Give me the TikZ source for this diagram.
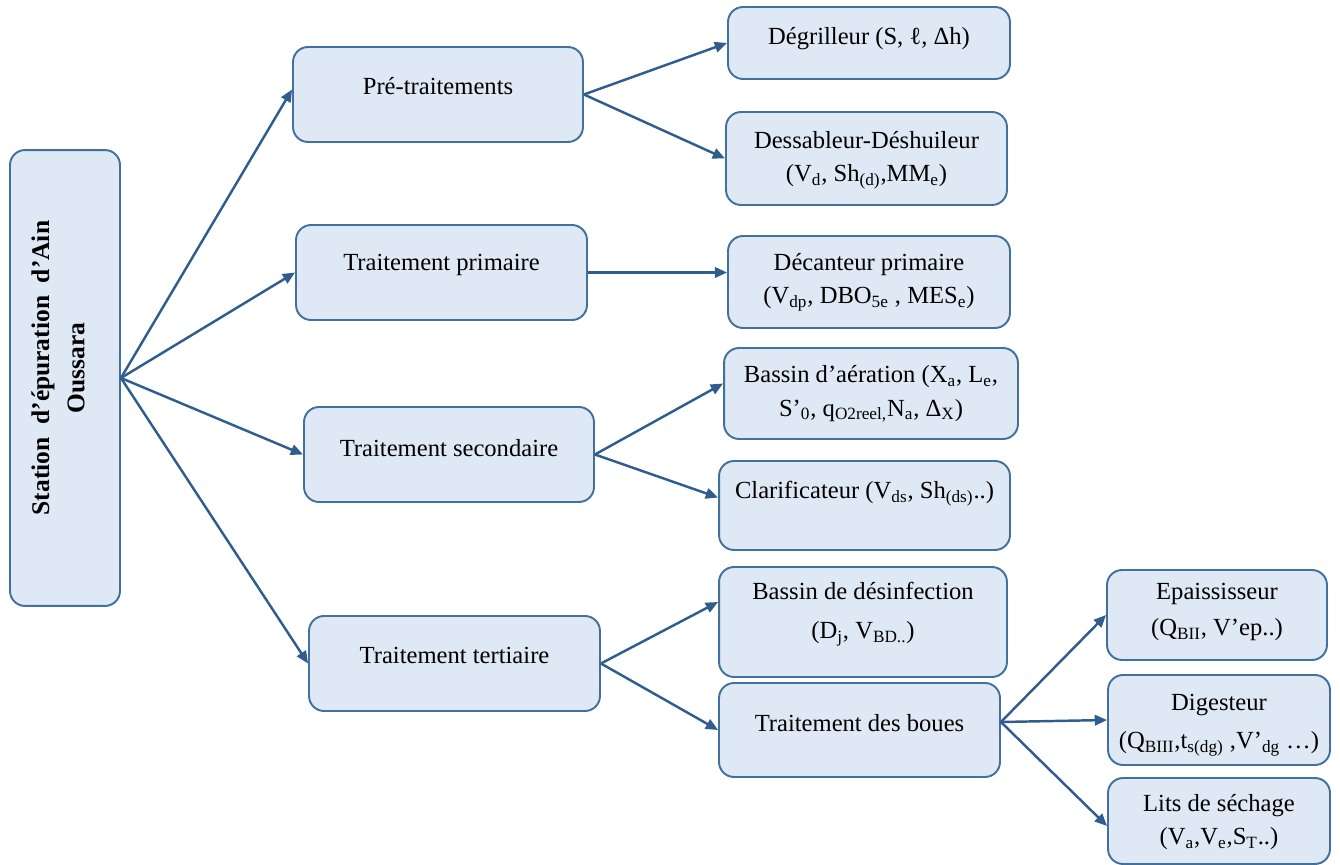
\documentclass[tikz,border=0pt]{standalone}
\usepackage{fontspec}
\setmainfont{Liberation Serif}
\usetikzlibrary{arrows.meta}
\definecolor{boxfill}{HTML}{DEE9F5}
\definecolor{boxline}{HTML}{41719C}
\definecolor{arrowc}{HTML}{2F5E8E}
\newcommand{\sbs}[1]{\textsubscript{#1}}
\begin{document}
\begin{tikzpicture}[x=0.02cm,y=-0.02cm,
  box/.style={draw=boxline, fill=boxfill, line width=1.1pt, rounded corners=0.3cm, inner sep=0pt},
  txt/.style={inner sep=0pt, align=center, font=\fontsize{14}{19}\selectfont, text=black},
  conn/.style={draw=arrowc, line width=1.4pt, -{Triangle[length=7pt,width=6pt]}}]
\useasboundingbox (0,0) rectangle (1340,865);
% boxes
\node[box, minimum width=2.2cm, minimum height=9.12cm] (st) at (65,378) {};
\node[box, minimum width=5.8cm, minimum height=1.9cm] (pre) at (438,94.5) {};
\node[box, minimum width=5.82cm, minimum height=1.9cm] (tp) at (441.5,272.5) {};
\node[box, minimum width=5.8cm, minimum height=1.9cm] (ts) at (449,454.5) {};
\node[box, minimum width=5.82cm, minimum height=1.9cm] (tt) at (454.5,663.5) {};
\node[box, minimum width=5.64cm, minimum height=1.44cm] (deg) at (869,43) {};
\node[box, minimum width=5.62cm, minimum height=1.86cm] (dess) at (866.5,158.5) {};
\node[box, minimum width=5.64cm, minimum height=1.84cm] (dec) at (869,282) {};
\node[box, minimum width=5.88cm, minimum height=1.82cm] (ba) at (871,393.5) {};
\node[box, minimum width=5.82cm, minimum height=1.78cm] (cl) at (864.5,505.5) {};
\node[box, minimum width=5.76cm, minimum height=2.2cm] (bd) at (863,622) {};
\node[box, minimum width=5.62cm, minimum height=1.88cm] (tb) at (859.5,730) {};
\node[box, minimum width=4.4cm, minimum height=1.8cm] (ep) at (1217,615) {};
\node[box, minimum width=4.44cm, minimum height=1.8cm] (dg) at (1219,720) {};
\node[box, minimum width=4.44cm, minimum height=1.72cm] (ls) at (1219,821) {};
% texts
\node[txt, rotate=90, font=\fontsize{14.5}{20}\selectfont\bfseries] (stT) at (58,368) {Station\ \ d’épuration\ \ d’Ain\\Oussara};
\node[txt] (preT) at (438,86) {Pré-traitements};
\node[txt] (tpT) at (441.5,265) {Traitement primaire};
\node[txt] (tsT) at (449,448) {Traitement secondaire};
\node[txt] (ttT) at (454.5,655) {Traitement tertiaire};
\node[txt] (degT) at (869,39) {Dégrilleur (S, ℓ, Δh)};
\node[txt] (dessT) at (866.5,160) {Dessableur-Déshuileur\\(V\sbs{d}, Sh\sbs{(d)},MM\sbs{e})};
\node[txt] (decT) at (869,282) {Décanteur primaire\\(V\sbs{dp}, DBO\sbs{5e} , MES\sbs{e})};
\node[txt] (baT) at (871,394) {Bassin d’aération (X\sbs{a}, L\sbs{e},\\S’\sbs{0}, q\sbs{O2reel,}N\sbs{a}, Δ\sbs{X})};
\node[txt] (clT) at (864.5,494) {Clarificateur (V\sbs{ds}, Sh\sbs{(ds)}..)};
\node[txt, font=\fontsize{14}{22}\selectfont] (bdT) at (863,614) {Bassin de désinfection\\(D\sbs{j}, V\sbs{BD..})};
\node[txt] (tbT) at (859.5,723) {Traitement des boues};
\node[txt, font=\fontsize{14}{20.5}\selectfont] (epT) at (1217,612) {Epaississeur\\(Q\sbs{BII}, V’ep..)};
\node[txt, font=\fontsize{14}{22}\selectfont] (dgT) at (1219,725) {Digesteur\\(Q\sbs{BIII},t\sbs{s(dg)} ,V’\sbs{dg} …)};
\node[txt] (lsT) at (1219,822) {Lits de séchage\\(V\sbs{a},V\sbs{e},S\sbs{T}..)};
% connectors
\draw[conn] (st.east) -- ([yshift=0.1cm]pre.west);
\draw[conn] (st.east) -- (tp.west);
\draw[conn] (st.east) -- (ts.west);
\draw[conn] (st.east) -- (tt.west);
\draw[conn] (pre.east) -- (deg.west);
\draw[conn] (pre.east) -- (dess.west);
\draw[conn] (tp.east) -- (dec.west |- tp.east);
\draw[conn] (ts.east) -- ([yshift=0.2cm]ba.west);
\draw[conn] (ts.east) -- ([yshift=0.16cm]cl.west);
\draw[conn] (tt.east) -- ([yshift=0.4cm]bd.west);
\draw[conn] (tt.east) -- (tb.west);
\draw[conn] ([yshift=0.16cm]tb.east) -- (ep.west);
\draw[conn] ([yshift=0.16cm]tb.east) -- (dg.west);
\draw[conn] ([yshift=0.16cm]tb.east) -- ([yshift=-0.1cm]ls.west);
\end{tikzpicture}
\end{document}
